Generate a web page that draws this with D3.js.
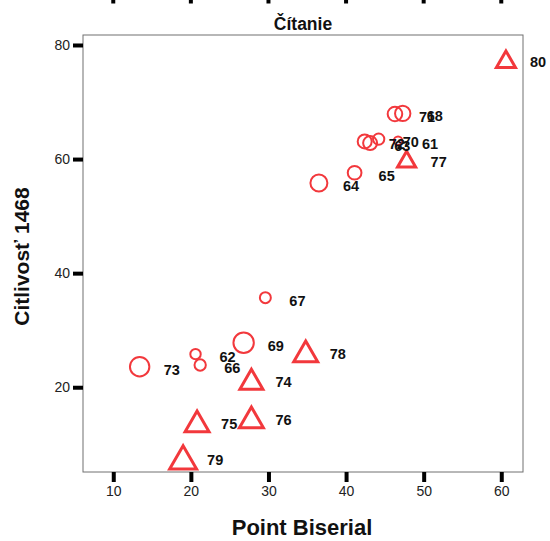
<!DOCTYPE html>
<html>
<head>
<meta charset="utf-8">
<script src="https://cdn.jsdelivr.net/npm/d3@7"></script>
<style>
  html, body { margin: 0; padding: 0; background: #fff; }
  svg { display: block; font-family: "Liberation Sans", Arial, sans-serif; }
</style>
</head>
<body>
<svg id="chart" width="550" height="541"></svg>
<script>
// ---- data ----
const ids        = ["61","62","63","64","65","66","67","68","69","70","71","72","73","74","75","76","77","78","79","80"];
const pointBis   = [46.7, 20.6, 43.1, 36.5, 41.1, 21.2, 29.6, 47.3, 26.8, 44.2, 46.3, 42.4, 13.4, 27.8, 20.8, 27.8, 47.8, 34.8, 19.0, 60.6];
const citlivost  = [63.2, 25.8, 62.8, 55.8, 57.6, 23.9, 35.7, 68.0, 27.8, 63.5, 67.9, 63.1, 23.6, 21.4, 14.0, 14.7, 60.0, 26.3, 7.7, 77.5];
const groups     = ["c","c","c","c","c","c","c","c","c","c","c","c","c","t","t","t","t","t","t","t"];
const weights    = [18, 27, 49, 72, 47, 32, 30, 59, 104, 32, 53, 49, 94, 73, 79, 79, 45, 79, 100, 50];
const xTicks     = [10, 20, 30, 40, 50, 60];
const yTicks     = [20, 40, 60, 80];
const title      = "Čítanie";
const xTitle     = "Point Biserial";
const yTitle     = "Citlivosť 1468";

const points = ids.map((id, i) => ({ id, x: pointBis[i], y: citlivost[i], g: groups[i], w: weights[i] }));

// ---- layout ----
const svg = d3.select("#chart");
const frame = { left: 83, right: 523, top: 35, bottom: 472 };
const x = d3.scaleLinear().domain([6.1, 62.8]).range([frame.left, frame.right]);
const y = d3.scaleLinear().domain([5.14, 81.75]).range([frame.bottom, frame.top]);
const area = d3.scaleLinear().domain([0, 100]).range([0, 100 * Math.PI]);
const red = "#f2383c";

// ticks from the panel above (cut off at top)
svg.append("g").selectAll("line").data(xTicks).join("line")
  .attr("x1", d => x(d)).attr("x2", d => x(d))
  .attr("y1", -6).attr("y2", 3.5)
  .attr("stroke", "#000").attr("stroke-width", 4);

// title
svg.append("text").attr("x", (frame.left + frame.right) / 2).attr("y", 30)
  .attr("text-anchor", "middle").attr("font-size", 17.5).attr("font-weight", "bold")
  .attr("fill", "#111").text(title);

// frame
svg.append("rect").attr("x", frame.left).attr("y", frame.top)
  .attr("width", frame.right - frame.left).attr("height", frame.bottom - frame.top)
  .attr("fill", "none").attr("stroke", "#707070").attr("stroke-width", 1);

// x axis
const xAxis = d3.axisBottom(x).tickValues(xTicks).tickSize(10).tickPadding(4);
const gx = svg.append("g").attr("transform", `translate(0,${frame.bottom})`).call(xAxis);
gx.select(".domain").remove();
gx.selectAll(".tick line").attr("stroke", "#000").attr("stroke-width", 4);
gx.selectAll(".tick text").attr("font-size", 14).attr("fill", "#222")
  .attr("font-family", "Liberation Sans, Arial, sans-serif");

// y axis
const yAxis = d3.axisLeft(y).tickValues(yTicks).tickSize(10).tickPadding(3);
const gy = svg.append("g").attr("transform", `translate(${frame.left},0)`).call(yAxis);
gy.select(".domain").remove();
gy.selectAll(".tick line").attr("stroke", "#000").attr("stroke-width", 4);
gy.selectAll(".tick text").attr("font-size", 14).attr("fill", "#222")
  .attr("font-family", "Liberation Sans, Arial, sans-serif");

// axis titles
svg.append("text").attr("x", 302).attr("y", 535)
  .attr("text-anchor", "middle").attr("font-size", 22).attr("font-weight", "bold")
  .attr("fill", "#111").text(xTitle);
svg.append("text").attr("transform", `translate(29,${(frame.top + frame.bottom) / 2 + 3}) rotate(-90)`)
  .attr("text-anchor", "middle").attr("font-size", 21).attr("font-weight", "bold")
  .attr("fill", "#111").text(yTitle);

// markers
const gPts = svg.append("g");
gPts.selectAll("path.circ").data(points.filter(d => d.g === "c")).join("path")
  .attr("class", "circ")
  .attr("transform", d => `translate(${x(d.x)},${y(d.y)})`)
  .attr("d", d => d3.symbol(d3.symbolCircle, area(d.w))())
  .attr("fill", "none").attr("stroke", red).attr("stroke-width", 2);

gPts.selectAll("path.tri").data(points.filter(d => d.g === "t")).join("path")
  .attr("class", "tri")
  .attr("transform", d => {
    const yy = Math.sqrt(area(d.w) / (Math.sqrt(3) * 3)); // centroid-to-base distance
    return `translate(${x(d.x)},${y(d.y) + yy / 2})`;
  })
  .attr("d", d => d3.symbol(d3.symbolTriangle, area(d.w))())
  .attr("fill", "none").attr("stroke", red).attr("stroke-width", 3)
  .attr("stroke-linejoin", "miter");

// labels
svg.append("g").selectAll("text").data(points).join("text")
  .attr("x", d => x(d.x) + 24).attr("y", d => y(d.y) + 8)
  .attr("font-size", 14.5).attr("font-weight", "bold").attr("fill", "#111")
  .text(d => d.id);
</script>
</body>
</html>
